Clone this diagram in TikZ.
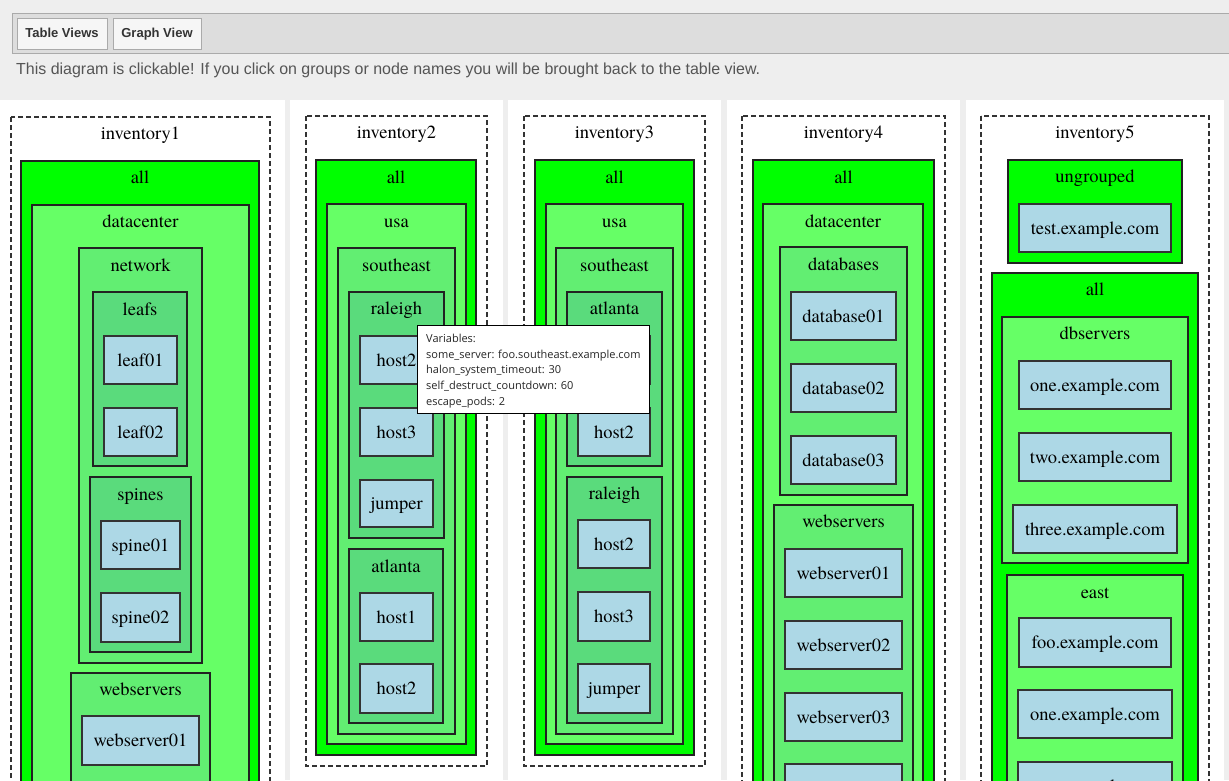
\documentclass[tikz,border=0pt]{standalone}
\usepackage{fontspec}
\newfontfamily\boxfont{texgyretermes-regular.otf}
\newfontfamily\uifont{Liberation Sans}
\newfontfamily\tipfont{Open Sans}
\usepackage{graphicx}

\definecolor{pagebg}{HTML}{EEEEEE}
\definecolor{barbg}{HTML}{DDDDDD}
\definecolor{barline}{HTML}{AAAAAA}
\definecolor{btnbg}{HTML}{F6F6F6}
\definecolor{uitext}{HTML}{555555}
\definecolor{lvA}{HTML}{00FF00}
\definecolor{lvB}{HTML}{66FF66}
\definecolor{lvC}{HTML}{62EE72}
\definecolor{lvD}{HTML}{5ADB7C}
\definecolor{hostfill}{HTML}{ADD8E6}
\definecolor{edge}{HTML}{222222}

\tikzset{
  grpline/.style={draw=edge, line width=1.3pt},
  lvAbox/.style={grpline, fill=lvA},
  lvBbox/.style={grpline, fill=lvB},
  lvCbox/.style={grpline, fill=lvC},
  lvDbox/.style={grpline, fill=lvD},
  invbox/.style={draw=black!80, line width=1.2pt, dash pattern=on 5pt off 3pt, fill=white},
  lbl/.style={anchor=base, inner sep=0pt, font=\boxfont\fontsize{18.5}{20}\selectfont},
  hostbox/.style={draw=black!80, line width=1.3pt, fill=hostfill, inner sep=0pt,
    text height=14pt, text depth=2pt,
    font=\boxfont\fontsize{18.5}{20}\selectfont},
  btn/.style={draw=barline, line width=1pt, fill=btnbg, inner sep=0pt,
    text height=9.5pt, text depth=2.5pt,
    font=\uifont\bfseries\fontsize{13}{15}\selectfont, text=black!80},
  tipline/.style={anchor=base west, inner sep=0pt, text=black!85,
    font=\tipfont\fontsize{11}{14}\selectfont},
}

% group frame with a caption: style, name, x1, y1, x2, y2, caption centre y, caption
\newcommand\grp[8]{%
  \draw[#1] (#3,#4) rectangle (#5,#6);
  \node[lbl] (#2) at ({(#3+#5)/2},{#7+6}) {#8};
}
% host box: name, x1, y1, x2, y2, text
\newcommand\hst[6]{%
  \node[hostbox, minimum width={(#4-#2)*1pt}, minimum height={(#5-#3)*1pt}]
    (#1) at ({(#2+#4)/2},{(#3+#5)/2}) {#6};
}

\begin{document}
\begin{tikzpicture}[x=1pt,y=-1pt]
\clip (0,0) rectangle (1229,780);
\fill[pagebg] (0,0) rectangle (1229,780);

% toolbar
\draw[fill=barbg, draw=barline, line width=1pt] (12,13) rectangle (1240,53);
\node[btn, minimum width=90pt, minimum height=31pt] (tablebtn) at (62,33.5) {Table Views};
\node[btn, minimum width=88pt, minimum height=31pt] (graphbtn) at (157,33.5) {Graph View};
\node[anchor=base west, inner sep=0pt, text=uitext, font=\uifont\fontsize{16}{18}\selectfont]
  (hint) at (16,74) {\resizebox{744pt}{\height}{This diagram is clickable! If you click on groups or node names you will be brought back to the table view.}};

% panels
\fill[white] (0,100) rectangle (285,790);
\fill[white] (290,100) rectangle (503,790);
\fill[white] (508,100) rectangle (721,790);
\fill[white] (727,100) rectangle (960,790);
\fill[white] (966,100) rectangle (1224,790);

% ---------- inventory1 ----------
\grp{invbox}{inva}{11}{117}{270}{800}{133}{inventory1}
\grp{lvAbox}{alla}{21}{161}{259}{800}{177}{all}
\grp{lvBbox}{dca}{32}{205}{249}{800}{221}{datacenter}
\grp{lvCbox}{neta}{79}{248}{202}{663}{265}{network}
\grp{lvDbox}{leafsa}{93}{292}{187}{466}{309}{leafs}
\hst{leafA}{104}{336}{177}{384}{leaf01}
\hst{leafB}{104}{408}{177}{456}{leaf02}
\grp{lvDbox}{spinesa}{90}{477}{191}{652}{494}{spines}
\hst{spineA}{101}{521}{180}{569}{spine01}
\hst{spineB}{101}{593}{180}{642}{spine02}
\grp{lvCbox}{weba}{71}{673}{210}{800}{689}{webservers}
\hst{webA}{82}{716}{199}{765}{webserver01}

% ---------- inventory2 ----------
\grp{invbox}{invb}{306}{116}{487}{766}{132}{inventory2}
\grp{lvAbox}{allb}{316}{160}{476}{755}{177}{all}
\grp{lvBbox}{usab}{327}{204}{466}{744}{221}{usa}
\grp{lvCbox}{seb}{338}{248}{455}{734}{265}{southeast}
\grp{lvDbox}{ralb}{349}{292}{444}{538}{308}{raleigh}
\hst{bhostA}{360}{336}{433}{384}{host2}
\hst{bhostB}{360}{408}{433}{456}{host3}
\hst{bjump}{360}{480}{433}{527}{jumper}
\grp{lvDbox}{atlb}{349}{549}{443}{723}{566}{atlanta}
\hst{bhostC}{360}{593}{433}{641}{host1}
\hst{bhostD}{360}{664}{433}{713}{host2}

% ---------- inventory3 ----------
\grp{invbox}{invc}{524}{116}{705}{766}{132}{inventory3}
\grp{lvAbox}{allc}{535}{160}{694}{755}{177}{all}
\grp{lvBbox}{usac}{546}{204}{683}{744}{221}{usa}
\grp{lvCbox}{sec}{556}{248}{673}{734}{265}{southeast}
\grp{lvDbox}{atlc}{567}{292}{662}{466}{308}{atlanta}
\hst{chostA}{578}{336}{650}{384}{host1}
\hst{chostB}{578}{408}{650}{456}{host2}
\grp{lvDbox}{ralc}{567}{477}{662}{723}{493}{raleigh}
\hst{chostC}{578}{520}{650}{568}{host2}
\hst{chostD}{578}{592}{650}{641}{host3}
\hst{cjump}{578}{664}{650}{713}{jumper}

% ---------- inventory4 ----------
\grp{invbox}{invd}{742}{116}{945}{800}{132}{inventory4}
\grp{lvAbox}{alld}{753}{160}{934}{800}{177}{all}
\grp{lvBbox}{dcd}{763}{204}{923}{800}{221}{datacenter}
\grp{lvCbox}{dbd}{780}{247}{907}{495}{264}{databases}
\hst{dbA}{791}{292}{896}{340}{database01}
\hst{dbB}{791}{364}{896}{412}{database02}
\hst{dbC}{791}{436}{896}{484}{database03}
\grp{lvCbox}{webd}{774}{505}{913}{800}{521}{webservers}
\hst{wsA}{785}{549}{902}{597}{webserver01}
\hst{wsB}{785}{621}{902}{669}{webserver02}
\hst{wsC}{785}{693}{902}{741}{webserver03}
\hst{wsD}{785}{764}{902}{812}{webserver04}

% ---------- inventory5 ----------
\grp{invbox}{inve}{981}{116}{1209}{800}{132}{inventory5}
\grp{lvAbox}{ungre}{1008}{160}{1182}{263}{176}{ungrouped}
\hst{testhost}{1019}{204}{1171}{252}{test.example.com}
\grp{lvAbox}{alle}{992}{273}{1198}{800}{289}{all}
\grp{lvBbox}{dbse}{1002}{317}{1188}{563}{333}{dbservers}
\hst{oneA}{1019}{361}{1171}{409}{one.example.com}
\hst{twoA}{1019}{433}{1171}{481}{two.example.com}
\hst{threeA}{1013}{505}{1177}{553}{three.example.com}
\grp{lvBbox}{easte}{1007}{575}{1183}{800}{592}{east}
\hst{fooB}{1019}{618}{1171}{667}{foo.example.com}
\hst{oneB}{1018}{690}{1172}{738}{one.example.com}
\hst{twoB}{1018}{762}{1172}{810}{two.example.com}

% ---------- hover tooltip ----------
\node[draw=black, line width=1pt, fill=white, anchor=north west, inner sep=0pt,
  minimum width=232pt, minimum height=88pt] (tip) at (417,325) {};
\node[tipline] (tipA) at (426,342) {Variables:};
\node[tipline] (tipB) at (426,358) {some\_server: foo.southeast.example.com};
\node[tipline] (tipC) at (426,373.5) {halon\_system\_timeout: 30};
\node[tipline] (tipD) at (426,389.5) {self\_destruct\_countdown: 60};
\node[tipline] (tipE) at (426,405) {escape\_pods: 2};
\end{tikzpicture}
\end{document}
